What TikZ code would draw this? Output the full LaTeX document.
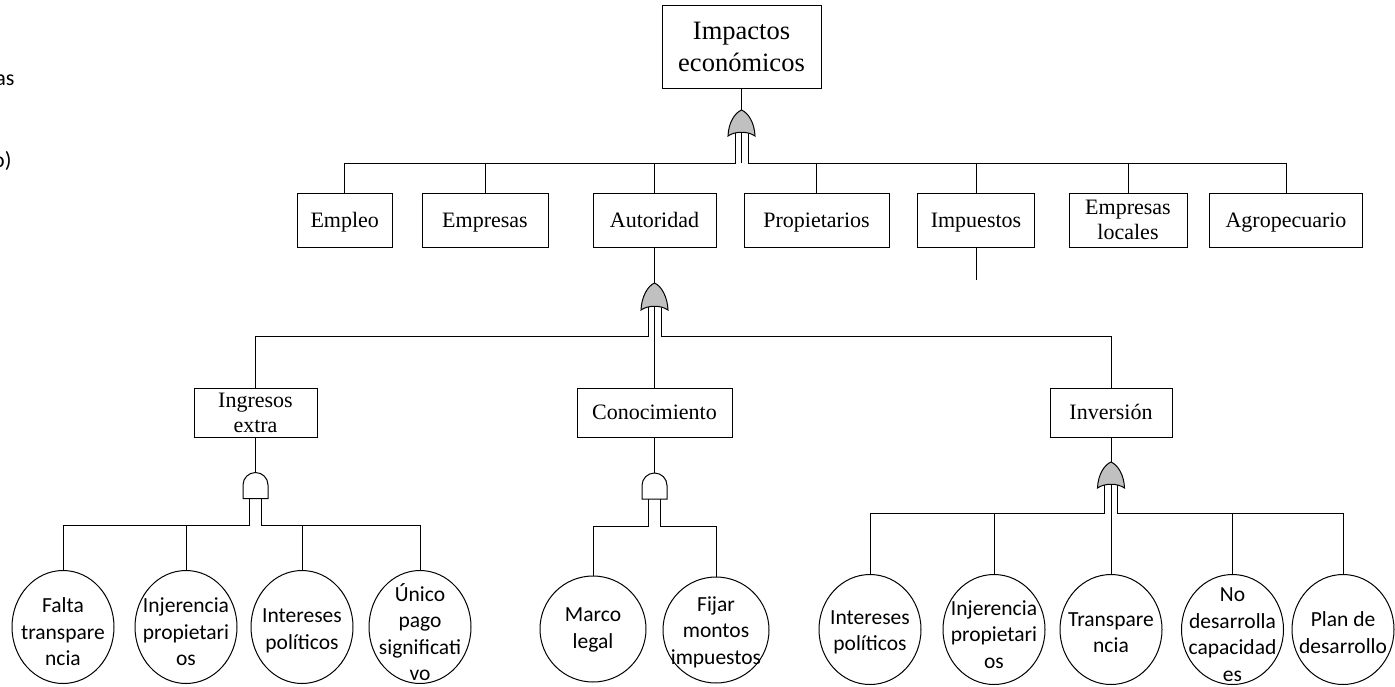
\documentclass[tikz,border=0pt]{standalone}
\usepackage{fontspec}
\setmainfont{Liberation Serif}
\newfontfamily\evfont{Carlito}
\usetikzlibrary{shapes.geometric}
\definecolor{gatefill}{RGB}{192,192,192}

% OR gate: pointed arch with a concave base, drawn over the node's box
\newcommand\orgateshape[1]{%
  \filldraw[fill=gatefill] (#1.south west) .. controls +(0.5,-13) and +(-7,3) .. (#1.north)
    .. controls +(7,3) and +(-0.5,-13) .. (#1.south east)
    .. controls +(-7,-5) and +(7,-5) .. (#1.south west) -- cycle;}
% AND gate: flat base, straight sides, round top
\newcommand\andgateshape[1]{%
  \filldraw[fill=white] (#1.south west) -- ([yshift=13.5pt]#1.south west)
    arc[start angle=180, end angle=0, radius=12.5pt] -- (#1.south east) -- cycle;}

\begin{document}
\begin{tikzpicture}[x=1pt,y=-1pt,line width=1pt,
  evbox/.style={draw, inner sep=0pt, outer sep=0pt, align=center,
    font=\fontsize{22}{25}\selectfont},
  onebox/.style={evbox, text height=17pt, text depth=3pt},
  orgatebox/.style={inner sep=0pt, outer sep=0pt, minimum width=27pt, minimum height=26pt},
  andgatebox/.style={inner sep=0pt, outer sep=0pt, minimum width=25pt, minimum height=26pt},
  basic/.style={draw, ellipse, inner sep=0pt, outer sep=0pt},
  basictext/.style={align=center, inner sep=0pt,
    font=\evfont\fontsize{21.5}{26.5}\selectfont},
  fragment/.style={anchor=base east, inner sep=0pt, font=\evfont\fontsize{22}{26}\selectfont}]
\useasboundingbox (0,0) rectangle (1395,686);

% cut-off text at the left margin
\node[fragment] (frag1) at (15,85) {as};
\node[fragment] (frag2) at (12,167) {o)};

% top event
\node[evbox, minimum width=159pt, minimum height=83pt,
  font=\fontsize{26.5}{32}\selectfont] (top) at (741.5,46.5) {Impactos\\económicos};

% first level
\node[onebox, minimum width=95.5pt, minimum height=54pt] (empleo) at (344.75,220) {Empleo};
\node[onebox, minimum width=126pt, minimum height=54pt] (empresas) at (485,220) {Empresas};
\node[onebox, minimum width=123pt, minimum height=54pt] (autoridad) at (654.5,220) {Autoridad};
\node[onebox, minimum width=145pt, minimum height=54pt] (propietarios) at (816.5,220) {Propietarios};
\node[onebox, minimum width=117.5pt, minimum height=54pt] (impuestos) at (976,220) {Impuestos};
\node[evbox, minimum width=118pt, minimum height=54pt] (locales) at (1128,220) {Empresas\\locales};
\node[onebox, minimum width=152.5pt, minimum height=54pt] (agro) at (1286,220) {Agropecuario};

% second level
\node[evbox, minimum width=123pt, minimum height=49pt] (ingresos) at (255.5,412.5) {Ingresos\\extra};
\node[onebox, minimum width=155pt, minimum height=49pt] (conoc) at (654.5,412.5) {Conocimiento};
\node[onebox, minimum width=122pt, minimum height=49pt] (inversion) at (1111,412.5) {Inversión};

% gates
\node[orgatebox] (g0) at (741.5,123) {};
\node[orgatebox, minimum height=27pt] (g1) at (654.5,296.5) {};
\node[orgatebox] (gc) at (1111,475) {};
\node[andgatebox] (ga) at (255.5,485.5) {};
\node[andgatebox] (gb) at (654.5,486) {};

% basic events under Ingresos extra
\node[basic, minimum width=102pt, minimum height=113pt] (f1) at (63,627) {};
\node[basic, minimum width=102pt, minimum height=113pt] (f2) at (186,627) {};
\node[basic, minimum width=102pt, minimum height=113pt] (f3) at (302,627) {};
\node[basic, minimum width=102pt, minimum height=113pt] (f4) at (420,627) {};
\node[basictext, yshift=-5pt] (f1t) at (f1) {Falta\\transpare\\ncia};
\node[basictext, yshift=-5pt] (f2t) at (f2) {Injerencia\\propietari\\os};
\node[basictext, yshift=-4pt] (f3t) at (f3) {Intereses\\políticos};
\node[basictext, yshift=-5pt] (f4t) at (f4) {Único\\pago\\significati\\vo};

% basic events under Conocimiento
\node[basic, minimum width=106pt, minimum height=106pt] (m1) at (593,629) {};
\node[basic, minimum width=106pt, minimum height=106pt] (m2) at (716,630) {};
\node[basictext, yshift=-1pt] (m1t) at (m1) {Marco\\legal};
\node[basictext, yshift=-2pt] (m2t) at (m2) {Fijar\\montos\\impuestos};

% basic events under Inversión
\node[basic, minimum width=102pt, minimum height=110pt] (r1) at (870,629.5) {};
\node[basic, minimum width=102pt, minimum height=110pt] (r2) at (994,629.5) {};
\node[basic, minimum width=102pt, minimum height=110pt] (r3) at (1111,629.5) {};
\node[basic, minimum width=102pt, minimum height=110pt] (r4) at (1232.5,629.5) {};
\node[basic, minimum width=102pt, minimum height=110pt] (r5) at (1343,629.5) {};
\node[basictext, yshift=-3pt] (r1t) at (r1) {Intereses\\políticos};
\node[basictext, yshift=-5pt] (r2t) at (r2) {Injerencia\\propietari\\os};
\node[basictext, yshift=-3pt] (r3t) at (r3) {Transpare\\ncia};
\node[basictext, yshift=-5pt] (r4t) at (r4) {No\\desarrolla\\capacidad\\es};
\node[basictext, yshift=-3pt] (r5t) at (r5) {Plan de\\desarrollo};

% bus levels
\coordinate (bus0) at (0,163);
\coordinate (bus1) at (0,336.7);
\coordinate (bus2) at (0,525);
\coordinate (bus3) at (0,526);
\coordinate (bus4) at (0,513);
\coordinate (impstub) at (976,280);

% top event to first level
\draw (top.south) -- (g0.north);
\draw ([xshift=-6.5pt,yshift=3pt]g0.south) |- (empleo.north |- bus0) -- (empleo.north);
\draw ([xshift=6.5pt,yshift=3pt]g0.south) |- (agro.north |- bus0) -- (agro.north);
\draw ([yshift=4pt]g0.south) -- (g0.south |- bus0);
\foreach \n in {empresas,autoridad,propietarios,impuestos,locales}
  \draw (\n.north |- bus0) -- (\n.north);
\draw (impuestos.south) -- (impstub);

% Autoridad to second level
\draw (autoridad.south) -- (g1.north);
\draw ([xshift=-6.5pt,yshift=3pt]g1.south) |- (ingresos.north |- bus1) -- (ingresos.north);
\draw ([xshift=6.5pt,yshift=3pt]g1.south) |- (inversion.north |- bus1) -- (inversion.north);
\draw ([yshift=4pt]g1.south) -- (conoc.north);

% Ingresos extra
\draw (ingresos.south) -- (ga.north);
\draw ([xshift=-6pt]ga.south) |- (f1.north |- bus2) -- (f1.north);
\draw ([xshift=6pt]ga.south) |- (f4.north |- bus2) -- (f4.north);
\draw (f2.north |- bus2) -- (f2.north);
\draw (f3.north |- bus2) -- (f3.north);

% Conocimiento
\draw (conoc.south) -- (gb.north);
\draw ([xshift=-6pt]gb.south) |- (m1.north |- bus3) -- (m1.north);
\draw ([xshift=6pt]gb.south) |- (m2.north |- bus3) -- (m2.north);

% Inversión
\draw (inversion.south) -- (gc.north);
\draw ([xshift=-6.5pt,yshift=3pt]gc.south) |- (r1.north |- bus4) -- (r1.north);
\draw ([xshift=6.5pt,yshift=3pt]gc.south) |- (r5.north |- bus4) -- (r5.north);
\draw ([yshift=4pt]gc.south) -- (r3.north);
\draw (r2.north |- bus4) -- (r2.north);
\draw (r4.north |- bus4) -- (r4.north);

% gate symbols on top of the lines
\orgateshape{g0}
\orgateshape{g1}
\orgateshape{gc}
\andgateshape{ga}
\andgateshape{gb}
\end{tikzpicture}
\end{document}
